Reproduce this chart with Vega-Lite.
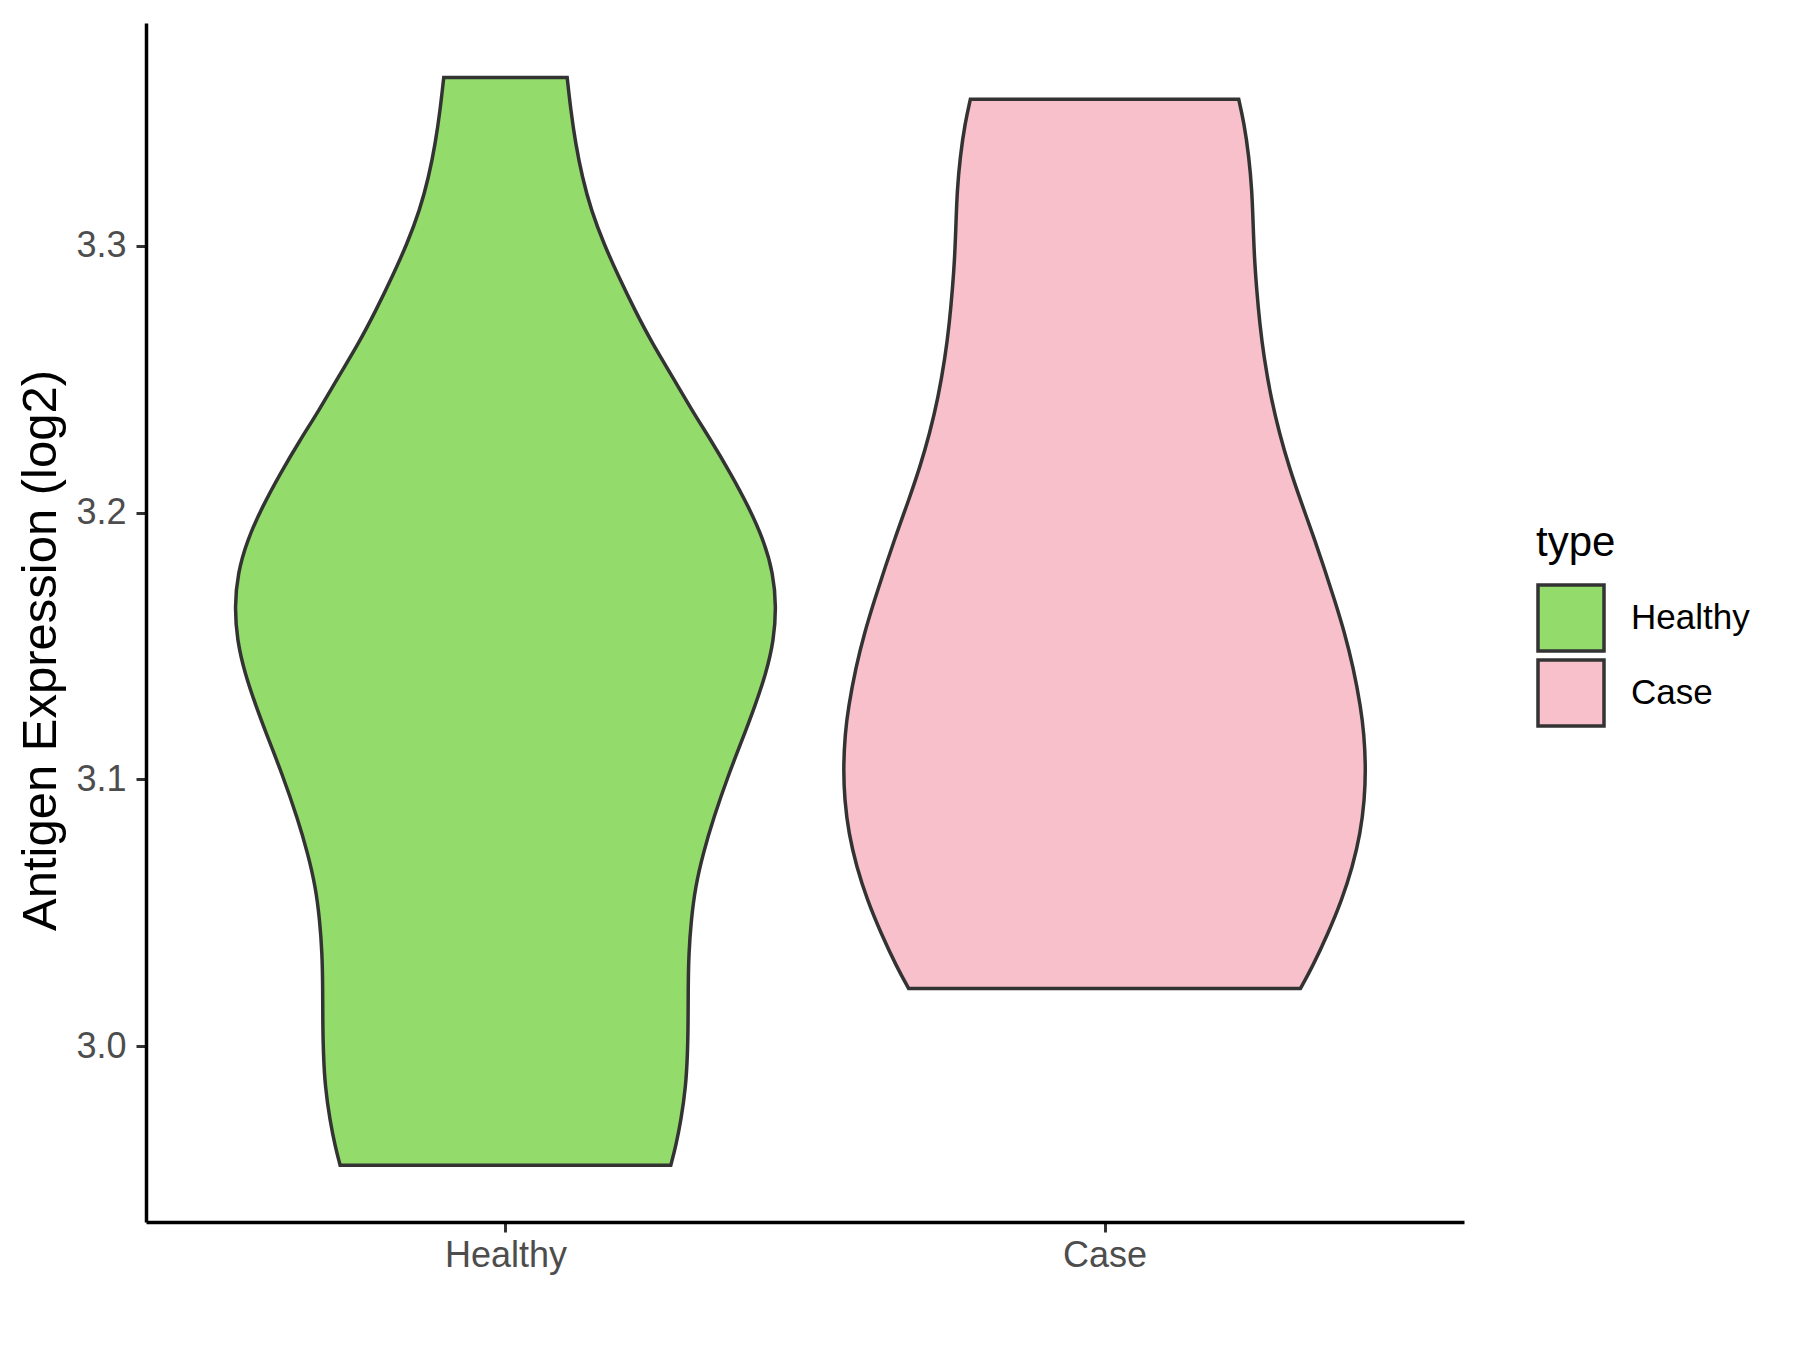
{
  "$schema": "https://vega.github.io/schema/vega-lite/v6.json",
  "width": 1318,
  "height": 1199,
  "autosize": "none",
  "padding": {"left": 146, "top": 23, "right": 336, "bottom": 128},
  "background": "white",
  "config": {
    "view": {"stroke": null},
    "font": "Liberation Sans"
  },
  "data": {
    "values": [
      {"type": "Healthy", "value": 3.3630, "w": 0.103},
      {"type": "Healthy", "value": 3.3508, "w": 0.109},
      {"type": "Healthy", "value": 3.3383, "w": 0.117},
      {"type": "Healthy", "value": 3.3258, "w": 0.128},
      {"type": "Healthy", "value": 3.3133, "w": 0.143},
      {"type": "Healthy", "value": 3.3008, "w": 0.164},
      {"type": "Healthy", "value": 3.2883, "w": 0.189},
      {"type": "Healthy", "value": 3.2758, "w": 0.216},
      {"type": "Healthy", "value": 3.2634, "w": 0.245},
      {"type": "Healthy", "value": 3.2508, "w": 0.279},
      {"type": "Healthy", "value": 3.2384, "w": 0.311},
      {"type": "Healthy", "value": 3.2271, "w": 0.343},
      {"type": "Healthy", "value": 3.2146, "w": 0.376},
      {"type": "Healthy", "value": 3.2021, "w": 0.406},
      {"type": "Healthy", "value": 3.1897, "w": 0.431},
      {"type": "Healthy", "value": 3.1772, "w": 0.447},
      {"type": "Healthy", "value": 3.1647, "w": 0.452},
      {"type": "Healthy", "value": 3.1522, "w": 0.448},
      {"type": "Healthy", "value": 3.1397, "w": 0.435},
      {"type": "Healthy", "value": 3.1272, "w": 0.416},
      {"type": "Healthy", "value": 3.1147, "w": 0.395},
      {"type": "Healthy", "value": 3.1022, "w": 0.373},
      {"type": "Healthy", "value": 3.0854, "w": 0.347},
      {"type": "Healthy", "value": 3.0723, "w": 0.330},
      {"type": "Healthy", "value": 3.0598, "w": 0.317},
      {"type": "Healthy", "value": 3.0473, "w": 0.310},
      {"type": "Healthy", "value": 3.0348, "w": 0.306},
      {"type": "Healthy", "value": 3.0223, "w": 0.305},
      {"type": "Healthy", "value": 3.0098, "w": 0.305},
      {"type": "Healthy", "value": 2.9973, "w": 0.304},
      {"type": "Healthy", "value": 2.9848, "w": 0.301},
      {"type": "Healthy", "value": 2.9723, "w": 0.293},
      {"type": "Healthy", "value": 2.9623, "w": 0.284},
      {"type": "Healthy", "value": 2.9555, "w": 0.276},
      {"type": "Case", "value": 3.3548, "w": 0.224},
      {"type": "Case", "value": 3.3458, "w": 0.233},
      {"type": "Case", "value": 3.3333, "w": 0.241},
      {"type": "Case", "value": 3.3208, "w": 0.246},
      {"type": "Case", "value": 3.3083, "w": 0.248},
      {"type": "Case", "value": 3.2958, "w": 0.250},
      {"type": "Case", "value": 3.2833, "w": 0.254},
      {"type": "Case", "value": 3.2709, "w": 0.259},
      {"type": "Case", "value": 3.2583, "w": 0.266},
      {"type": "Case", "value": 3.2427, "w": 0.278},
      {"type": "Case", "value": 3.2296, "w": 0.292},
      {"type": "Case", "value": 3.2171, "w": 0.308},
      {"type": "Case", "value": 3.2046, "w": 0.327},
      {"type": "Case", "value": 3.1922, "w": 0.347},
      {"type": "Case", "value": 3.1797, "w": 0.366},
      {"type": "Case", "value": 3.1672, "w": 0.384},
      {"type": "Case", "value": 3.1547, "w": 0.401},
      {"type": "Case", "value": 3.1422, "w": 0.415},
      {"type": "Case", "value": 3.1266, "w": 0.428},
      {"type": "Case", "value": 3.1172, "w": 0.433},
      {"type": "Case", "value": 3.1047, "w": 0.436},
      {"type": "Case", "value": 3.0922, "w": 0.434},
      {"type": "Case", "value": 3.0798, "w": 0.427},
      {"type": "Case", "value": 3.0673, "w": 0.414},
      {"type": "Case", "value": 3.0548, "w": 0.396},
      {"type": "Case", "value": 3.0423, "w": 0.373},
      {"type": "Case", "value": 3.0298, "w": 0.347},
      {"type": "Case", "value": 3.0217, "w": 0.327}
    ]
  },
  "transform": [
    {"calculate": "datum.type === 'Healthy' ? 1 : 2", "as": "pos"},
    {"calculate": "datum.pos - datum.w", "as": "xl"},
    {"calculate": "datum.pos + datum.w", "as": "xr"}
  ],
  "mark": {
    "type": "area",
    "orient": "horizontal",
    "interpolate": "basis",
    "stroke": "#333333",
    "strokeWidth": 3.5,
    "fillOpacity": 1,
    "strokeJoin": "miter"
  },
  "encoding": {
    "y": {
      "field": "value",
      "type": "quantitative",
      "scale": {"domain": [2.9342, 3.3834], "nice": false, "zero": false},
      "axis": {
        "title": "Antigen Expression (log2)",
        "values": [3.0, 3.1, 3.2, 3.3],
        "format": ".1f",
        "grid": false,
        "domainColor": "#000000",
        "domainWidth": 3.5,
        "tickColor": "#333333",
        "tickWidth": 3,
        "tickSize": 10,
        "labelPadding": 10,
        "labelFontSize": 36,
        "labelColor": "#4D4D4D",
        "labelFont": "Liberation Sans",
        "titleFont": "Liberation Sans",
        "titleFontSize": 49,
        "titleFontWeight": "normal",
        "titleColor": "#000000",
        "titleX": -81,
        "titleY": 627
      }
    },
    "x": {
      "field": "xl",
      "type": "quantitative",
      "scale": {"domain": [0.4, 2.6], "nice": false, "zero": false},
      "axis": {
        "title": null,
        "values": [1, 2],
        "labelExpr": "datum.value === 1 ? 'Healthy' : 'Case'",
        "grid": false,
        "domainColor": "#000000",
        "domainWidth": 3.5,
        "tickColor": "#333333",
        "tickWidth": 3,
        "tickSize": 10,
        "labelPadding": 6,
        "labelFontSize": 36,
        "labelColor": "#4D4D4D",
        "labelFont": "Liberation Sans"
      }
    },
    "x2": {"field": "xr"},
    "color": {
      "field": "type",
      "type": "nominal",
      "scale": {"domain": ["Healthy", "Case"], "range": ["#93DC6B", "#F7C0CB"]},
      "legend": {
        "title": "type",
        "orient": "none",
        "legendX": 1390,
        "legendY": 500,
        "titleFont": "Liberation Sans",
        "titleFontSize": 42,
        "titleFontWeight": "normal",
        "titleColor": "#000000",
        "titlePadding": 18,
        "labelFont": "Liberation Sans",
        "labelFontSize": 35,
        "labelColor": "#000000",
        "labelOffset": 25,
        "symbolType": "square",
        "symbolSize": 4356,
        "symbolStrokeColor": "#333333",
        "symbolStrokeWidth": 3.5,
        "symbolOpacity": 1,
        "rowPadding": -10
      }
    }
  }
}
